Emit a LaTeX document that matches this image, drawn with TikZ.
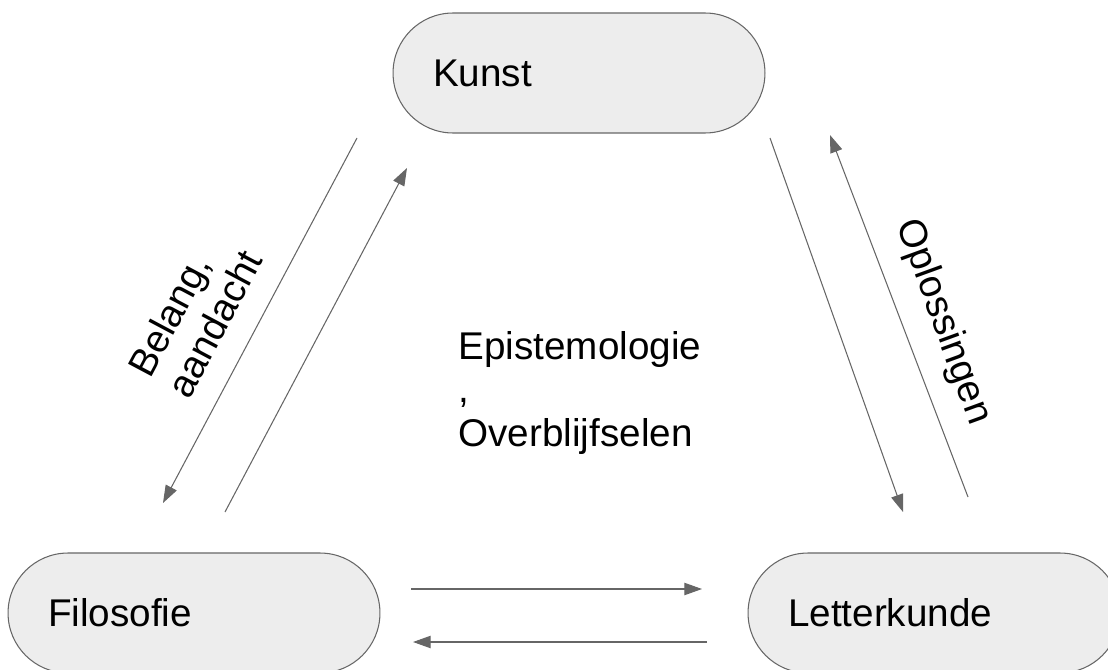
\documentclass[tikz,border=0pt]{standalone}
\usepackage{fontspec}
\setmainfont{Liberation Sans}
\usetikzlibrary{arrows.meta}
\begin{document}
\begin{tikzpicture}[x=0.02cm,y=-0.02cm,->,>={Triangle[length=10pt,width=7pt]},draw=black!60,line width=0.6pt]
    \tikzstyle{veld}=[draw=black!60,fill=black!7,rounded corners=1.2cm,minimum width=7.44cm,minimum height=2.4cm,inner xsep=0.8cm,inner ysep=0pt,text width=5.84cm,align=left,font=\fontsize{22}{25}\selectfont]
    \tikzstyle{bijschrift}=[inner sep=0pt,align=left,font=\fontsize{22}{25}\selectfont]

    \useasboundingbox (0,0) rectangle (1108,669);
    \clip (0,0) rectangle (1108,669);

    \node[veld] (kunst) at (579,73) {Kunst};
    \node[veld] (filosofie) at (194,613) {Filosofie};
    \node[veld] (letterkunde) at (934,613) {Letterkunde};

    \coordinate (KF-a) at (357,138);
    \coordinate (KF-b) at (163,503);
    \coordinate (FK-a) at (225,512);
    \coordinate (FK-b) at (407,168);
    \coordinate (KL-a) at (770,138);
    \coordinate (KL-b) at (903,512);
    \coordinate (LK-a) at (968,497);
    \coordinate (LK-b) at (830,135);
    \coordinate (FL-a) at (411,589);
    \coordinate (FL-b) at (702,589);
    \coordinate (LF-a) at (707,642);
    \coordinate (LF-b) at (413,642);

    \path (KF-a) edge (KF-b);
    \path (FK-a) edge (FK-b);
    \path (KL-a) edge (KL-b);
    \path (LK-a) edge (LK-b);
    \path (FL-a) edge (FL-b);
    \path (LF-a) edge (LF-b);

    \node[bijschrift,rotate=62] (belang) at (195,313) {Belang,\\aandacht};
    \node[bijschrift,rotate=-70] (oplossingen) at (943,322) {Oplossingen};
    \node[bijschrift,anchor=west] (episteme) at (458,393) {Epistemologie\\,\\Overblijfselen};
  \end{tikzpicture}
\end{document}
